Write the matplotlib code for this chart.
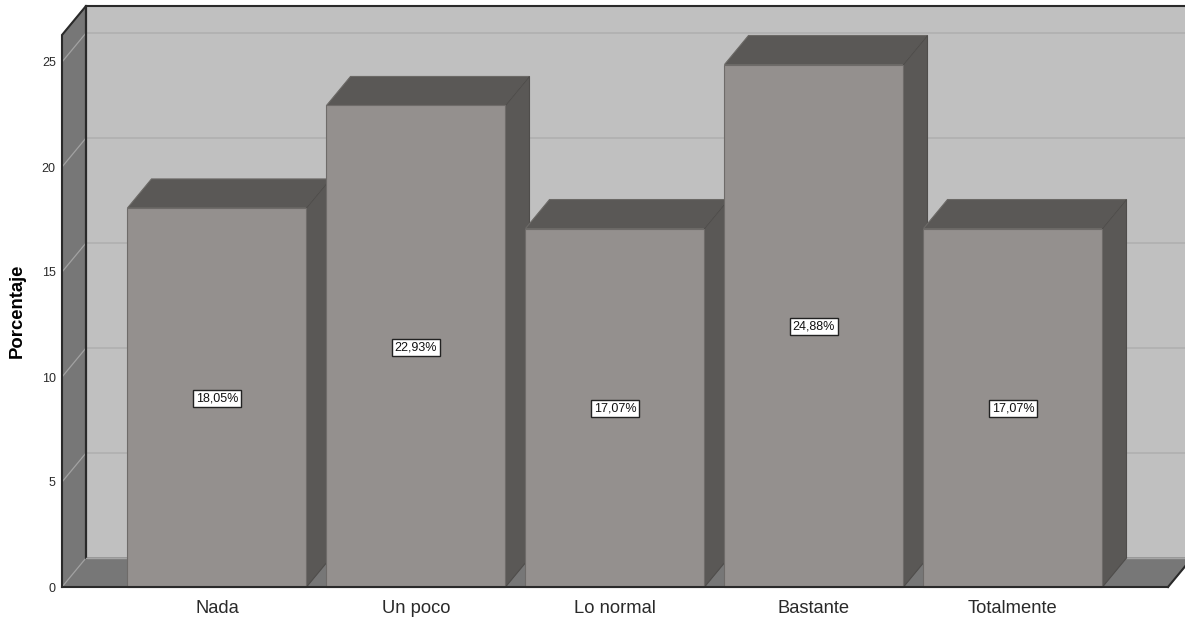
import matplotlib
matplotlib.use("Agg")
import matplotlib.pyplot as plt
from matplotlib.patches import Polygon

plt.rcParams["font.family"] = ["Liberation Sans", "DejaVu Sans"]

categories = ["Nada", "Un poco", "Lo normal", "Bastante", "Totalmente"]
percentages = [18.05, 22.93, 17.07, 24.88, 17.07]
value_labels = ["18,05%", "22,93%", "17,07%", "24,88%", "17,07%"]
y_ticks = [0, 5, 10, 15, 20, 25]

W, H = 1185, 618
LEFT, RIGHT, BOTTOM, TOP = 62, 1168, 587, 35
PX_PER_CAT, PX_PER_VAL = 199.0, 21.0
FIRST_CENTRE = 217.0

fig = plt.figure(figsize=(W / 100, H / 100), dpi=100, facecolor="white")
ax = fig.add_axes([LEFT / W, 1 - BOTTOM / H, (RIGHT - LEFT) / W, (BOTTOM - TOP) / H])
ax.set_xlim((LEFT - FIRST_CENTRE) / PX_PER_CAT, (RIGHT - FIRST_CENTRE) / PX_PER_CAT)
ax.set_ylim(0, (BOTTOM - TOP) / PX_PER_VAL)
ax.patch.set_visible(False)

# Oblique depth of the 3D projection, in data units
DX, DY = 24 / PX_PER_CAT, 29 / PX_PER_VAL
BAR_W = 179 / PX_PER_CAT

x0, x1 = ax.get_xlim()
y0, y1 = ax.get_ylim()

WALL, BACK, FRONT, DARK = "#777777", "#c0c0c0", "#94908e", "#5a5856"
LINE = "#2a2a2a"


def face(points, color, edge=None, lw=0.8, z=1):
    ax.add_patch(Polygon(points, closed=True, facecolor=color,
                         edgecolor=edge if edge else color, linewidth=lw,
                         zorder=z, clip_on=False, joinstyle="miter"))


# Back wall, side wall and floor
face([(x0 + DX, y0 + DY), (x1 + DX, y0 + DY), (x1 + DX, y1 + DY), (x0 + DX, y1 + DY)], BACK, z=1)
face([(x0, y0), (x0 + DX, y0 + DY), (x0 + DX, y1 + DY), (x0, y1)], WALL, z=1)
face([(x0, y0), (x1, y0), (x1 + DX, y0 + DY), (x0 + DX, y0 + DY)], WALL, z=1)

# Gridlines running along the side wall and the back wall
for t in y_ticks:
    if t > 0:
        ax.plot([x0 + DX, x1 + DX], [t + DY, t + DY], color="#b0b0b0", lw=1.2, zorder=2, clip_on=False)
    ax.plot([x0, x0 + DX], [t, t + DY], color="#a2a2a2", lw=0.9, zorder=2, clip_on=False)

# Heavy outline of the box
ax.plot([x0, x0, x0 + DX, x1 + DX], [y0, y1, y1 + DY, y1 + DY], color=LINE, lw=1.5, zorder=3,
        clip_on=False, solid_joinstyle="miter")
ax.plot([x0 + DX, x0 + DX], [y0 + DY, y1 + DY], color=LINE, lw=1.6, zorder=3, clip_on=False)
ax.plot([x0 + DX, x1 + DX], [y0 + DY, y0 + DY], color="#a5a5a5", lw=1.0, zorder=3, clip_on=False)
ax.plot([x1, x1 + DX], [y0, y0 + DY], color=LINE, lw=1.5, zorder=3, clip_on=False)

# Bars, left to right so each one overlaps the previous one's depth faces
for i, (value, text) in enumerate(zip(percentages, value_labels)):
    z = 4 + i
    a, b = i - BAR_W / 2, i + BAR_W / 2
    face([(a, value), (b, value), (b + DX, value + DY), (a + DX, value + DY)], DARK, "#6b6966", z=z)
    face([(b, 0), (b + DX, DY), (b + DX, value + DY), (b, value)], DARK, "#4f4d4b", z=z)
    face([(a, 0), (b, 0), (b, value), (a, value)], FRONT, "#6e6b69", z=z)
    ax.annotate(text, (i, value / 2), xytext=(0, -0.7), textcoords="offset points",
                ha="center", va="center", fontsize=9, color="#111111", zorder=20,
                bbox=dict(boxstyle="square,pad=0.2", facecolor="white", edgecolor="#222222", linewidth=1.0))

ax.plot([x0, x1], [y0, y0], color=LINE, lw=1.5, zorder=15, clip_on=False)

for side in ax.spines.values():
    side.set_visible(False)
ax.set_xticks(range(len(categories)), categories)
ax.set_yticks(y_ticks)
ax.tick_params(axis="x", length=0, pad=9.5, labelsize=13.2, labelcolor="#2a2a2a")
ax.tick_params(axis="y", length=0, pad=4.5, labelsize=9, labelcolor="#2a2a2a")
ax.set_ylabel("Porcentaje", fontsize=13.3, fontweight="bold", color="black")
ax.yaxis.set_label_coords((26 - LEFT) / (RIGHT - LEFT), (BOTTOM - 311) / (BOTTOM - TOP))

fig.savefig("out.png", dpi=100, facecolor="white")
